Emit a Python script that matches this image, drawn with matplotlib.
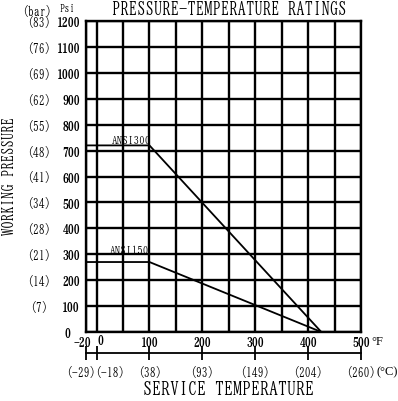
import matplotlib.pyplot as plt
import matplotlib as mpl
from matplotlib.transforms import ScaledTranslation

# pressure-temperature rating curves (psi vs deg F)
temps_f = [-20, 100, 425]
ansi300 = [720, 720, 0]
ansi150 = [270, 270, 0]

f_ticks = [-20, 0, 100, 200, 300, 400, 500]
f_minor = [50, 150, 250, 350, 450]
c_labels = ['(-29)', '(-18)', '(38)', '(93)', '(149)', '(204)', '(260)']

psi_ticks = [0, 100, 200, 300, 400, 500, 600, 700, 800, 900, 1000, 1100, 1200]
bar_psi = [1200, 1100, 1000, 900, 800, 700, 600, 500, 400, 300, 200, 100]
bar_labels = ['(83)', '(76)', '(69)', '(62)', '(55)', '(48)', '(41)',
              '(34)', '(28)', '(21)', '(14)', '(7)']

mpl.rcParams['font.family'] = ['BIZ UDMincho', 'DejaVu Sans']
W, H = 398, 402


def fx(px):
    return px / W


def fy(py):
    return 1 - py / H


def nudge(txt, dx, dy=0):
    # shift a text by a few pixels
    txt.set_transform(txt.get_transform() + ScaledTranslation(dx / 100, dy / 100, fig.dpi_scale_trans))


fig = plt.figure(figsize=(W / 100, H / 100), dpi=100)
ax = fig.add_axes([fx(86), fy(333), fx(361) - fx(86), fy(22) - fy(333)])

ax.plot(temps_f, ansi300, color='black', lw=1.3)
ax.plot(temps_f, ansi150, color='black', lw=1.3)
ax.text(65, 745, 'ANSI300', ha='center', va='center', fontsize=8)
ax.text(63, 320, 'ANSI150', ha='center', va='center', fontsize=8)

ax.set_xlim(-20, 500)
ax.set_ylim(0, 1200)
ax.set_xticks(f_ticks)
ax.set_xticks(f_minor, minor=True)
ax.set_yticks(psi_ticks)
ax.grid(which='both', color='black', lw=1.7)
ax.tick_params(axis='x', which='both', length=0, pad=2.5, labelsize=8.5)
ax.tick_params(axis='y', length=0, pad=4.3, labelsize=8.5)
for sp in ax.spines.values():
    sp.set_linewidth(1.7)
for t in ax.get_xticklabels() + ax.get_yticklabels():
    t.set_fontweight('bold')
xl = ax.get_xticklabels()
nudge(xl[0], -4)
nudge(xl[1], 4, 2)
yl = ax.get_yticklabels()
nudge(yl[0], -10)

# bar labels on the left
bar_tr = mpl.transforms.blended_transform_factory(fig.transFigure, ax.transData)
for p, lab in zip(bar_psi, bar_labels):
    ax.text(fx(39), p, lab, transform=bar_tr, ha='center', va='center', fontsize=8.5)

# celsius scale
sec = ax.secondary_xaxis(-21 / 311)
sec.set_xticks(f_ticks, labels=c_labels)
sec.tick_params(direction='inout', length=10, width=1.3, pad=4, labelsize=8.5)
sec.spines['bottom'].set_linewidth(1.3)
cl = sec.get_xticklabels()
nudge(cl[0], -5)
nudge(cl[1], 13)

fig.text(fx(229), fy(9), 'PRESSURE-TEMPERATURE RATINGS', ha='center', va='center', fontsize=12)
fig.text(fx(67), fy(8), 'Psi', ha='center', va='center', fontsize=7.5)
fig.text(fx(37), fy(11), '(bar)', ha='center', va='center', fontsize=8.5)
fig.text(fx(377), fy(342), '°F', ha='center', va='center', fontsize=9, family='Liberation Serif')
fig.text(fx(387), fy(372), '(°C)', ha='center', va='center', fontsize=9, family='Liberation Serif')
fig.text(fx(228), fy(389), 'SERVICE TEMPERATURE', ha='center', va='center', fontsize=13)
fig.text(fx(9), fy(176), 'WORKING PRESSURE', ha='center', va='center', rotation=90, fontsize=10.5)

fig.savefig('out.png', dpi=100)
